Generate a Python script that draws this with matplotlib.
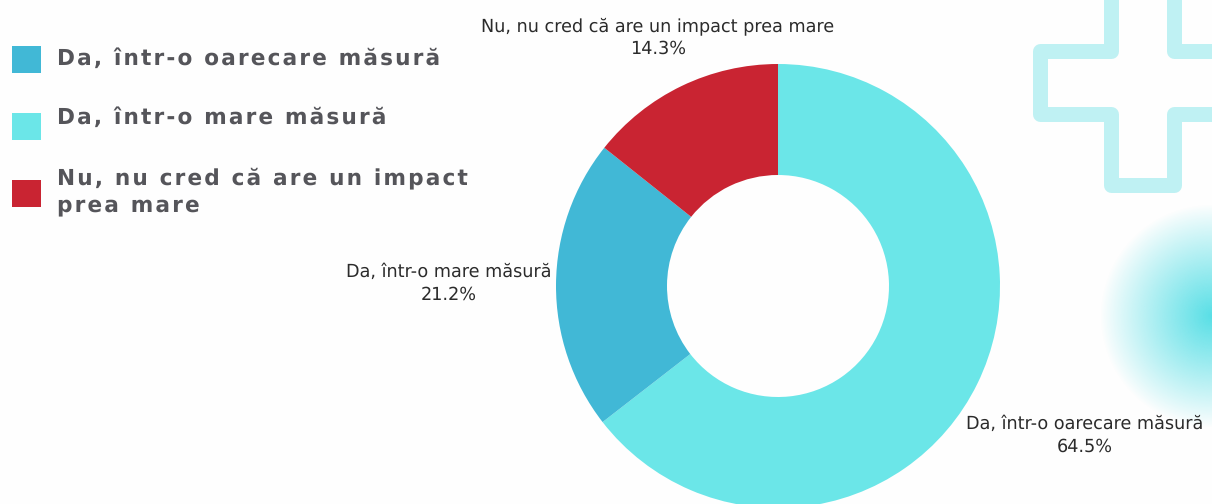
import numpy as np
import matplotlib
matplotlib.use("Agg")
import matplotlib.pyplot as plt
from matplotlib.patches import Polygon, Rectangle

plt.rcParams["text.hinting"] = "no_hinting"

slice_labels = ["Da, într-o oarecare măsură", "Da, într-o mare măsură", "Nu, nu cred că are un impact prea mare"]
slice_values = [64.5, 21.2, 14.3]
slice_colors = ["#6BE6E8", "#41B8D6", "#C92432"]
legend_labels = ["Da, într-o oarecare măsură", "Da, într-o mare măsură", "Nu, nu cred că are un impact\nprea mare"]
legend_colors = ["#41B8D6", "#6BE6E8", "#C92432"]
W, H = 1212, 504

def Y(p):
    return H - p

def tracked(s):
    return "\n".join("\u200a".join(line) for line in s.split("\n"))

fig = plt.figure(figsize=(W / 100, H / 100), dpi=100, facecolor="#FEFEFE")
ax = fig.add_axes([0, 0, 1, 1])
ax.set_facecolor("#FEFEFE")

# Decorative radial glow
r = 112
gy, gx = np.mgrid[-1:1:300j, -1:1:300j]
d = np.clip(np.sqrt(gx**2 + gy**2), 0, 1)
rgba = np.zeros((300, 300, 4))
rgba[..., :3] = matplotlib.colors.to_rgb("#58DFE6")
rgba[..., 3] = (1 - d) ** 0.95
ax.imshow(rgba, extent=(1212 - r, 1212 + r, Y(316 + r), Y(316 - r)), aspect="auto", zorder=1)

# Decorative plus outline
cross = [(1111, -30), (1111, 50.5), (1040, 50.5), (1040, 113.5), (1111, 113.5), (1111, 185),
         (1174, 185), (1174, 113.5), (1250, 113.5), (1250, 50.5), (1174, 50.5), (1174, -30)]
ax.add_patch(Polygon([(x, Y(y)) for x, y in cross], closed=True, fill=False, edgecolor="#BFF1F3",
                     linewidth=10.8, joinstyle="round", zorder=1))

# Donut
ax.pie(slice_values, colors=slice_colors, startangle=90, counterclock=False, radius=222,
       center=(778, Y(286)), wedgeprops=dict(width=111, linewidth=0, zorder=2), frame=True)
ax.set_xlim(0, W)
ax.set_ylim(0, H)
ax.set_aspect("auto")
ax.axis("off")

font = "DejaVu Sans"
lab = dict(ha="center", va="center", fontsize=12.7, color="#2B2B2B", family=font, zorder=3, linespacing=1.4)
ax.text(658, Y(37.5), f"{slice_labels[2]}\n{slice_values[2]}%", **lab)
ax.text(448.5, Y(283.5), f"{slice_labels[1]}\n{slice_values[1]}%", **lab)
ax.text(1085, Y(435), f"{slice_labels[0]}\n{slice_values[0]}%", **lab)

# Legend
sq_y = [46, 113, 180]
txt_y = [59, 118, 191.5]
for label, c, sy, ty in zip(legend_labels, legend_colors, sq_y, txt_y):
    ax.add_patch(Rectangle((12, Y(sy + 27)), 29, 27, facecolor=c, edgecolor="none", zorder=3))
    ax.text(57, Y(ty), tracked(label), ha="left", va="center", fontsize=15.6, fontweight="bold",
            color="#55555A", family="DejaVu Sans", linespacing=1.3, zorder=3)

fig.savefig("out.png", dpi=100, facecolor=fig.get_facecolor())
